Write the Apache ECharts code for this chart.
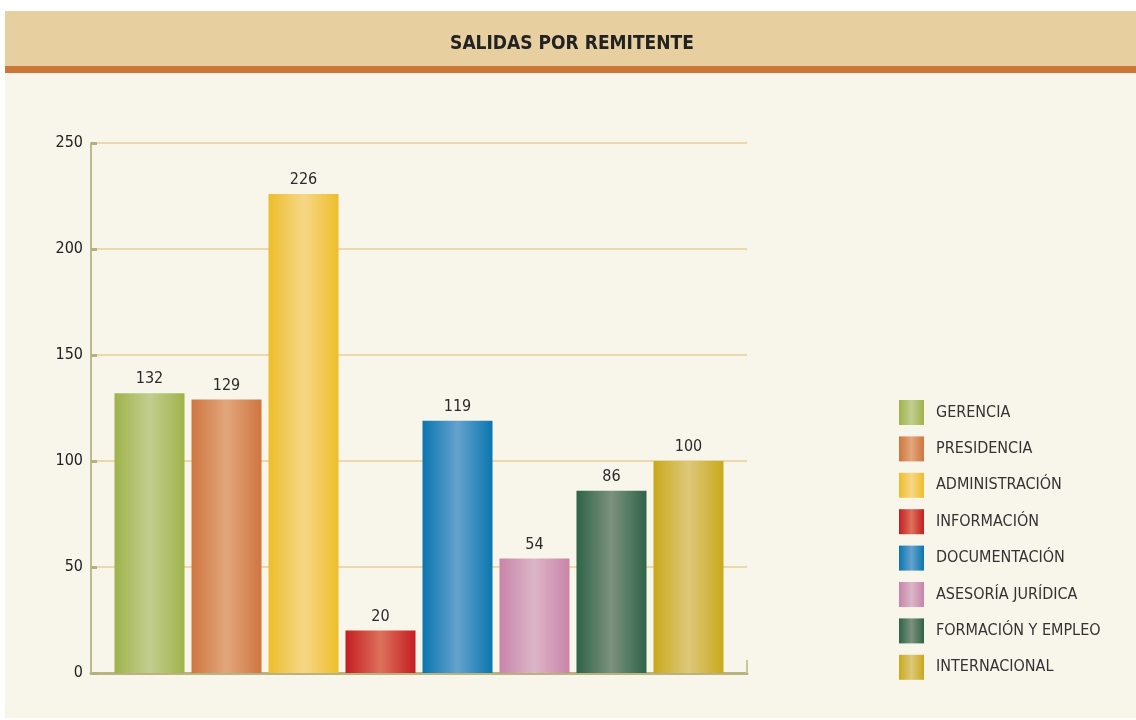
<!DOCTYPE html>
<html>
<head>
<meta charset="utf-8">
<script src="https://cdn.jsdelivr.net/npm/echarts@6/dist/echarts.min.js"></script>
<style>
  html, body { margin: 0; padding: 0; background: #fff; }
  #chart { width: 1136px; height: 720px; }
</style>
</head>
<body>
<div id="chart"></div>
<script>
var categorias = ['GERENCIA', 'PRESIDENCIA', 'ADMINISTRACIÓN', 'INFORMACIÓN', 'DOCUMENTACIÓN', 'ASESORÍA JURÍDICA', 'FORMACIÓN Y EMPLEO', 'INTERNACIONAL']
var valores = [132, 129, 226, 20, 119, 54, 86, 100]
// borde / centro de cada degradado
var colores = [
  ['#9fb34a', '#c2ce90'],
  ['#cf7640', '#e2a67c'],
  ['#eebd2a', '#f6d788'],
  ['#c41e22', '#dd715c'],
  ['#0a76b0', '#64a2cd'],
  ['#c984a8', '#dcb6c8'],
  ['#2f6448', '#7c917e'],
  ['#c9a91a', '#ddc87c']
]

var fuente = '"DejaVu Sans Condensed", "Liberation Sans Narrow", sans-serif'

function degradado(c) {
  return new echarts.graphic.LinearGradient(0, 0, 1, 0, [
    { offset: 0, color: c[0] },
    { offset: 0.5, color: c[1] },
    { offset: 1, color: c[0] }
  ])
}

var series = categorias.map(function (nombre, i) {
  return {
    name: nombre,
    type: 'bar',
    barWidth: 70,
    barGap: '-100%',
    data: [[i, valores[i]]],
    itemStyle: { color: degradado(colores[i]) },
    label: {
      show: true,
      position: 'top',
      distance: 6,
      color: '#2b2b2b',
      fontSize: 16,
      fontFamily: fuente,
      formatter: function (p) { return p.value[1] }
    },
    z: 3
  }
})

var chart = echarts.init(document.getElementById('chart'))
chart.setOption({
  animation: false,
  graphic: [
    { type: 'rect', z: -10, shape: { x: 5, y: 11, width: 1131, height: 707 }, style: { fill: '#f8f5ea' } },
    { type: 'rect', z: -9, shape: { x: 5, y: 11, width: 1131, height: 55 }, style: { fill: '#e7cf9f' } },
    { type: 'rect', z: -9, shape: { x: 5, y: 66, width: 1131, height: 7 }, style: { fill: '#cc7637' } }
  ],
  title: {
    text: 'SALIDAS POR REMITENTE',
    left: 567,
    textAlign: 'center',
    top: 30,
    textStyle: { fontFamily: fuente, fontWeight: 'bold', fontSize: 19, color: '#222' }
  },
  legend: {
    orient: 'vertical',
    left: 894,
    top: 395,
    itemWidth: 25,
    itemHeight: 25,
    itemGap: 11.4,
    icon: 'rect',
    textStyle: { fontFamily: fuente, fontSize: 16, color: '#333', padding: [0, 0, 0, 7] },
    data: categorias
  },
  grid: { left: 91, right: 389, top: 143, bottom: 47 },
  xAxis: {
    type: 'value',
    min: -0.76,
    max: 7.76,
    axisLabel: { show: false },
    splitLine: { show: false },
    axisLine: { lineStyle: { color: '#b8b37f', width: 3 } },
    axisTick: { show: true, inside: true, length: 13, customValues: [7.76], lineStyle: { color: '#c9c69a', width: 2 } }
  },
  yAxis: {
    type: 'value',
    min: 0,
    max: 250,
    interval: 50,
    axisLine: { show: true, onZero: false, lineStyle: { color: '#bdbb8c', width: 2 } },
    axisTick: { show: true, inside: true, length: 6, lineStyle: { color: '#b3b17f', width: 3 } },
    axisLabel: { margin: 8, fontFamily: fuente, fontSize: 16, color: '#222' },
    splitLine: { lineStyle: { color: '#ecd9ab', width: 2 } }
  },
  series: series
})
</script>
</body>
</html>
